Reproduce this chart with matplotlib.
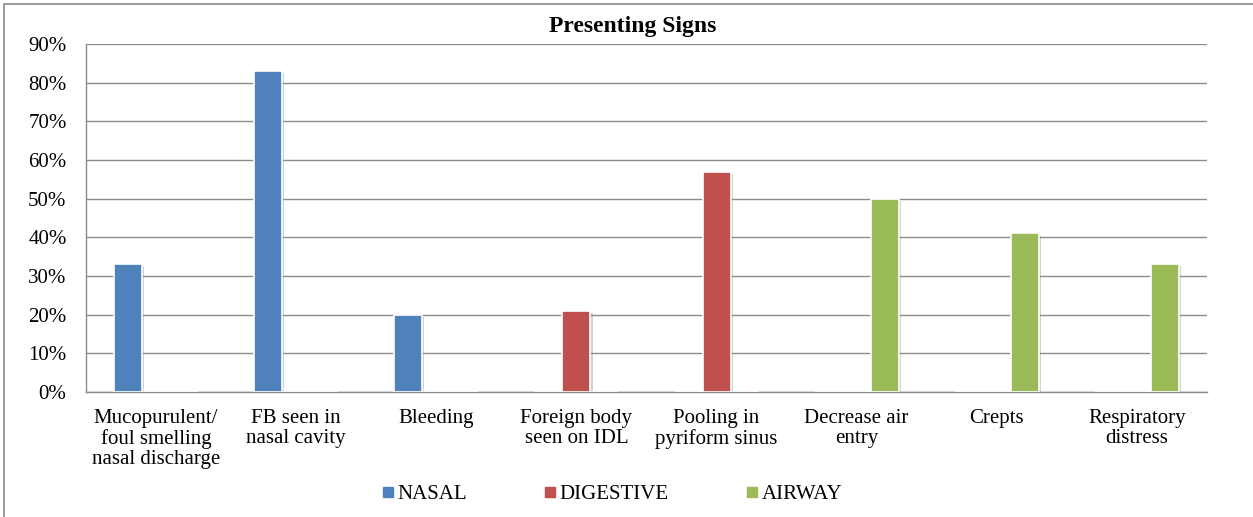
import numpy as np
import matplotlib
matplotlib.use("Agg")
import matplotlib.pyplot as plt
import matplotlib.patheffects as pe
from matplotlib.patches import Rectangle
from matplotlib.lines import Line2D
from matplotlib.ticker import FuncFormatter

plt.rcParams["font.family"] = ["Liberation Serif", "DejaVu Serif"]

# Chart data (percent of patients)
categories = [
    "Mucopurulent/\nfoul smelling\nnasal discharge",
    "FB seen in\nnasal cavity",
    "Bleeding",
    "Foreign body\nseen on IDL",
    "Pooling in\npyriform sinus",
    "Decrease air\nentry",
    "Crepts",
    "Respiratory\ndistress",
]
series_names = ["NASAL", "DIGESTIVE", "AIRWAY"]
nasal = [33, 83, 20, 0, 0, 0, 0, 0]
digestive = [0, 0, 0, 21, 57, 0, 0, 0]
airway = [0, 0, 0, 0, 0, 50, 41, 33]
colors = ["#4F81BD", "#C0504D", "#9BBB59"]
y_ticks = [0, 10, 20, 30, 40, 50, 60, 70, 80, 90]

W, H = 1253, 517
fs = 15
fig = plt.figure(figsize=(W / 100, H / 100), dpi=100)
ax = fig.add_axes([86 / W, 1 - 392 / H, (1207 - 86) / W, (392 - 44) / H])

x = np.arange(len(categories))
bar_w = 0.2
shadow = [pe.SimplePatchShadow(offset=(1.5, -1.5), shadow_rgbFace="#7f7f7f", alpha=0.35), pe.Normal()]
for i, (vals, c) in enumerate(zip([nasal, digestive, airway], colors)):
    bars = ax.bar(x + (i - 1) * bar_w, vals, width=bar_w, color=c,
                  edgecolor="white", linewidth=1.2, zorder=3)
    for b in bars:
        b.set_path_effects(shadow)

ax.set_xlim(-0.5, len(categories) - 0.5)
ax.set_ylim(0, 90)
ax.set_yticks(y_ticks)
ax.yaxis.set_major_formatter(FuncFormatter(lambda v, p: f"{v:.0f}%"))
ax.set_xticks(x)
ax.set_xticklabels(categories, fontsize=fs, linespacing=1.08)
ax.tick_params(axis="y", labelsize=fs, length=0, pad=14)
ax.tick_params(axis="x", length=0, pad=12)
ax.grid(axis="y", color="#8c8c8c", linewidth=1, zorder=0)
ax.set_axisbelow(True)
for s in ["top", "right"]:
    ax.spines[s].set_visible(False)
for s in ["left", "bottom"]:
    ax.spines[s].set_color("#8c8c8c")
    ax.spines[s].set_linewidth(1)

fig.text(633 / W, 1 - 27 / H, "Presenting Signs", ha="center", va="center",
         fontsize=17, fontweight="bold")

handles = [Line2D([], [], marker="s", linestyle="none", markersize=6.5,
                  markerfacecolor=c, markeredgecolor=c) for c in colors]
fig.legend(handles, series_names, loc="center", bbox_to_anchor=(612 / W, 1 - 494 / H),
           ncol=3, frameon=False, fontsize=fs, handletextpad=0.15,
           columnspacing=3.7, handlelength=0.6, borderpad=0)

# outer chart border (top and left only visible)
fig.patches.append(Rectangle((4 / W, -0.01), 1.02, 1 - 4 / H + 0.01, transform=fig.transFigure,
                             fill=False, edgecolor="#8c8c8c", linewidth=1.2))

fig.savefig("out.png", dpi=100)
